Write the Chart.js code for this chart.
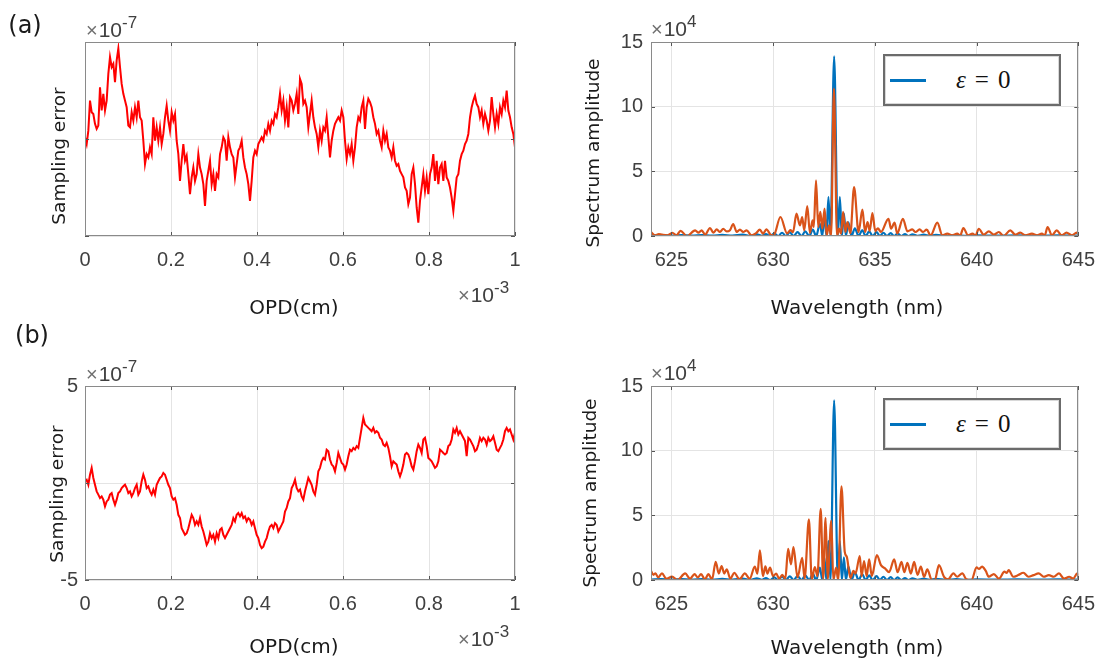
<!DOCTYPE html>
<html>
<head>
<meta charset="utf-8">
<script src="https://cdn.jsdelivr.net/npm/chart.js@4.4.1/dist/chart.umd.min.js"></script>
<style>
  body { margin: 0; background: #fff; width: 1107px; height: 662px; overflow: hidden; position: relative; }
  canvas { position: absolute; }
  .txt { position: absolute; white-space: nowrap; color: #1a1a1a; font-family: "DejaVu Sans", sans-serif; line-height: 1; }
  .mid { transform: translate(-50%, -50%); }
  .rot { transform: translate(-50%, -50%) rotate(-90deg); }
  .tag { font-size: 24px; }
  .xt { font-size: 20px; }
  .yt { font-size: 18.5px; }
  .exp { position: absolute; font-family: "Liberation Sans", Arial, sans-serif; font-size: 21px; line-height: 21px; color: #404040; white-space: nowrap; }
  .exp .x { font-size: 20px; color: #6f6f6f; margin-right: 1px; }
  .exp .p { position: relative; top: -9px; font-size: 17px; }
  .legend { position: absolute; width: 174px; height: 48px; border: 2px solid #6b6b6b; background: #fff; box-shadow: inset 0 0 0 1px #d8d8d8; }
  .legend .ln { position: absolute; left: 5px; top: 23px; width: 36px; height: 3px; background: #0072bd; }
  .legend .lb { position: absolute; left: 71px; top: 11px; font-family: "Liberation Serif", serif; font-size: 25px; line-height: 1; color: #111; }
  .legend .lb span { margin-left: 9px; }
</style>
</head>
<body>
<canvas id="errAChart" width="560" height="330" style="left:0;top:0"></canvas>
<canvas id="specAChart" width="547" height="330" style="left:560px;top:0"></canvas>
<canvas id="errBChart" width="560" height="332" style="left:0;top:330px"></canvas>
<canvas id="specBChart" width="547" height="332" style="left:560px;top:330px"></canvas>

<div class="txt tag mid" style="left:25px;top:25px">(a)</div>
<div class="txt tag mid" style="left:32px;top:335px">(b)</div>

<div class="txt yt rot" style="left:59px;top:156px">Sampling error</div>
<div class="txt xt mid" style="left:294px;top:307px">OPD(cm)</div>
<div class="txt yt rot" style="left:593px;top:153px">Spectrum amplitude</div>
<div class="txt xt mid" style="left:857px;top:307px">Wavelength (nm)</div>

<div class="txt yt rot" style="left:57px;top:494px">Sampling error</div>
<div class="txt xt mid" style="left:294px;top:646px">OPD(cm)</div>
<div class="txt yt rot" style="left:590px;top:493px">Spectrum amplitude</div>
<div class="txt xt mid" style="left:857px;top:647px">Wavelength (nm)</div>

<div class="exp" style="left:86px;top:19px"><span class="x">×</span>10<span class="p">-7</span></div>
<div class="exp" style="left:651px;top:18px"><span class="x">×</span>10<span class="p">4</span></div>
<div class="exp" style="left:458px;top:284px"><span class="x">×</span>10<span class="p">-3</span></div>
<div class="exp" style="left:86px;top:363px"><span class="x">×</span>10<span class="p">-7</span></div>
<div class="exp" style="left:651px;top:362px"><span class="x">×</span>10<span class="p">4</span></div>
<div class="exp" style="left:458px;top:628px"><span class="x">×</span>10<span class="p">-3</span></div>

<div class="legend" style="left:883px;top:54px"><div class="ln"></div><div class="lb"><i>ε</i><span>=</span><span>0</span></div></div>
<div class="legend" style="left:883px;top:398px"><div class="ln"></div><div class="lb"><i>ε</i><span>=</span><span>0</span></div></div>

<script>
// sampling error along the OPD sweep, in units of 1e-7
var errA = [0.09,-0.26,0.43,1.98,1.38,1.29,0.78,0.52,
  0.69,2.67,1.47,2.33,1.47,1.98,3.36,4.22,3.71,3.88,
  2.93,4.05,4.66,3.71,2.84,2.33,1.98,1.64,0.69,0.60,
  1.38,0.95,1.64,1.12,1.98,1.12,0.95,-0.09,-1.29,-0.78,
  -0.95,-0.43,-0.78,1.12,-0.09,0.60,-0.09,0.60,-0.26,0.26,
  1.12,1.72,0.95,0.43,1.38,0.95,1.29,-0.09,-0.78,-2.16,
  -1.12,-0.26,-1.12,-0.86,-1.81,-2.84,-1.98,-1.47,-2.16,-1.81,
  -0.78,-1.47,-1.81,-2.33,-3.45,-2.16,-1.64,-1.12,-2.33,-1.81,
  -2.67,-1.81,-1.98,-0.78,-0.43,0.09,-0.09,-1.12,0.09,-0.43,
  -0.78,-0.95,-1.98,-1.29,-0.60,-0.43,-0.09,-0.95,-1.47,-1.81,
  -2.33,-3.19,-2.16,-0.95,-0.60,-0.78,-0.26,-0.09,0.09,-0.09,
  0.43,0.26,0.78,0.43,0.95,0.78,1.29,1.12,1.64,2.33,
  1.47,1.98,0.95,1.64,0.60,2.16,1.98,1.47,
  1.81,2.33,1.29,3.10,2.84,1.81,1.98,1.64,0.60,1.29,
  1.98,1.12,0.60,0.26,-0.43,0.43,-0.09,0.60,0.43,1.12,
  0.09,-0.95,-0.09,0.43,0.78,0.95,1.12,0.95,1.47,1.12,
  -0.09,-1.03,-0.43,-0.78,-0.26,-1.12,-0.43,0.60,1.12,0.95,
  1.64,1.98,0.52,1.64,2.07,1.90,1.64,1.12,0.78,0.26,
  0.43,-0.09,-0.43,0.43,-0.09,0.26,-0.43,-0.60,-0.95,-0.43,
  -1.12,-1.38,-1.29,-1.64,-1.81,-1.98,-2.50,-2.67,-3.36,-3.02,
  -1.81,-1.47,-2.33,-3.53,-4.31,-3.19,-2.50,-1.81,-2.67,-1.98,
  -2.84,-1.81,-1.47,-0.78,-2.16,-1.12,-2.33,-1.47,-1.29,-2.16,
  -1.12,-1.98,-2.16,-2.50,-3.02,-3.71,-2.84,-1.98,-1.81,-1.12,
  -0.78,-0.60,-0.26,-0.09,0.26,1.12,1.64,1.98,2.24,1.81,
  1.64,1.12,1.47,0.78,1.29,0.95,0.43,0.95,2.16,1.29,
  0.60,1.29,0.78,1.64,1.29,1.98,1.64,2.50,1.47,1.12,
  0.60,0.26,-0.43];

var errB = [0.09,0.17,-0.09,0.43,0.78,0.26,-0.09,-0.43,-0.60,-0.78,
  -0.69,-0.86,-1.21,-0.95,-0.86,-0.60,-0.52,-0.86,-1.12,-0.86,
  -0.52,-0.43,-0.26,-0.17,-0.09,-0.26,-0.52,-0.43,-0.69,-0.52,
  -0.26,-0.09,-0.60,-0.43,0.09,0.43,0.17,-0.26,-0.17,-0.43,
  -0.60,-0.34,-0.60,-0.09,0.09,0.26,0.34,0.52,0.43,0.17,
  -0.09,-0.26,-0.69,-0.86,-0.78,-1.12,-1.64,-1.81,-2.33,-2.50,
  -2.67,-2.59,-2.33,-1.98,-1.64,-1.81,-2.16,-1.98,-2.16,-1.81,
  -2.24,-2.50,-2.84,-3.19,-3.02,-2.59,-2.84,-2.67,-3.02,-2.59,
  -2.84,-2.41,-2.33,-2.67,-2.84,-2.67,-2.50,-2.33,-2.16,-1.81,
  -1.98,-1.64,-1.55,-1.72,-1.55,-1.81,-1.72,-1.98,-1.81,-1.90,
  -2.16,-1.98,-2.33,-2.67,-2.84,-3.19,-3.36,-3.28,-3.02,-2.84,
  -2.50,-2.24,-2.16,-2.33,-2.07,-2.16,-2.50,-2.33,-2.16,-1.98,
  -1.47,-1.29,-0.95,-0.78,-0.26,-0.09,
  0.17,-0.26,-0.43,-0.34,-0.69,-0.86,-0.43,-0.09,0.26,0.09,
  -0.09,-0.43,-0.60,-0.09,0.60,0.78,1.12,1.29,1.21,1.72,
  1.64,1.21,0.95,0.86,0.60,1.03,1.55,1.29,1.03,0.95,
  0.69,0.95,1.38,1.72,1.64,1.81,1.72,1.90,1.81,2.33,
  2.84,3.36,3.02,2.93,2.84,2.76,2.67,2.84,2.59,2.67,
  2.59,2.33,2.24,1.98,1.90,2.07,1.81,1.38,0.86,1.12,
  1.03,0.95,0.60,0.34,0.60,0.95,1.47,1.55,1.47,1.21,
  0.86,0.69,1.12,1.64,1.98,1.81,1.55,2.24,2.33,1.90,
  1.29,1.21,1.12,0.95,0.78,0.86,1.12,1.72,1.64,1.55,
  1.47,1.55,1.90,1.98,2.24,2.76,2.59,2.84,2.50,2.67,
  2.50,2.33,2.16,1.38,2.33,2.24,2.07,1.90,1.64,1.72,
  1.98,2.33,2.16,2.33,2.24,1.98,2.33,2.16,2.24,2.41,
  2.07,1.72,1.64,1.81,1.98,2.24,2.67,2.84,2.67,2.76,
  2.50,2.24,2.59];

// spectrum with no sampling error (eps = 0): wavelength (nm), amplitude (x1e4)
var wlRef = [624.0,624.5,625.0,625.5,626.0,626.5,627.0,627.5,628.0,628.5,628.9,629.2,629.45,629.65,629.85,
  630.06,630.25,630.44,630.63,630.82,631.01,631.2,631.4,631.58,631.78,631.95,632.12,632.3,632.42,632.52,
  632.62,632.72,632.82,633.0,633.18,633.28,633.38,633.48,633.58,633.7,633.85,634.02,634.2,634.38,634.55,
  634.72,634.9,635.08,635.25,635.42,635.6,635.78,635.95,636.12,636.3,636.48,636.65,636.85,637.1,637.4,
  637.7,638.0,638.5,639.0,639.5,640.0,641.0,642.0,643.0,644.0,645.0];
var ampRef = [0.03,0.06,0.03,0.06,0.03,0.06,0.03,0.08,0.03,0.1,0.02,0.12,0.02,0.15,0.0,
  0.2,0.0,0.25,0.0,0.28,0.0,0.3,0.0,0.35,0.0,0.5,0.0,0.95,0.0,1.75,
  0.0,3.0,0.0,13.9,0.0,3.0,0.0,1.75,0.0,1.05,0.0,0.6,0.0,0.45,0.0,
  0.35,0.0,0.3,0.0,0.25,0.0,0.22,0.0,0.2,0.0,0.15,0.0,0.12,0.02,0.1,
  0.02,0.08,0.02,0.06,0.02,0.05,0.03,0.05,0.03,0.05,0.03];

// spectrum recovered with the sampling error of (a)
var wlA = [624.0,624.21,624.38,624.54,624.8,625.05,625.25,625.45,625.76,626.17,626.33,626.49,626.66,626.9,627.06,
  627.23,627.39,627.55,627.72,627.88,628.04,628.21,628.37,628.53,628.7,628.94,629.15,629.35,629.51,629.67,
  629.92,630.05,630.36,630.69,630.85,630.98,631.15,631.32,631.43,631.53,631.68,631.81,631.94,632.0,632.11,
  632.22,632.32,632.42,632.53,632.63,632.75,632.85,632.99,633.14,633.24,633.34,633.44,633.55,633.65,633.8,
  633.98,634.2,634.39,634.52,634.64,634.75,634.88,635.02,635.15,635.3,635.67,635.8,635.97,636.1,636.38,
  636.6,636.84,637.0,637.2,637.37,637.55,637.74,638.07,638.32,638.56,638.8,639.05,639.2,639.35,639.58,
  639.8,639.95,640.11,640.35,640.6,640.85,641.09,641.33,641.66,641.9,642.15,642.4,642.72,642.97,643.21,
  643.35,643.49,643.7,643.94,644.18,644.42,644.68,644.92,645.0];
var ampA = [0.3,0.05,0.15,0.1,0.05,0.25,0.05,0.4,0.0,0.44,0.26,0.44,0.1,0.62,0.26,
  0.51,0.31,0.56,0.35,0.45,0.92,0.31,0.49,0.31,0.44,0.05,0.2,0.49,0.18,0.51,
  0.05,0.1,1.47,0.2,0.45,0.3,1.73,0.82,1.47,0.44,2.32,0.23,1.21,0.7,4.3,
  0.7,1.86,0.57,2.11,0.05,0.82,0.0,11.39,0.0,0.57,0.18,1.86,0.31,1.08,0.23,
  3.79,0.3,2.04,0.31,1.08,0.39,1.78,0.39,0.6,0.31,1.33,0.56,1.03,0.2,1.33,
  0.36,0.51,0.31,0.51,0.31,0.49,0.05,1.03,0.05,0.18,0.05,0.18,0.05,0.62,0.05,
  0.18,0.05,0.56,0.1,0.36,0.1,0.31,0.0,0.44,0.1,0.26,0.05,0.18,0.05,0.18,
  0.05,0.69,0.05,0.44,0.05,0.26,0.05,0.26,0.18];

// spectrum recovered with the sampling error of (b)
var wlB = [624.0,624.12,624.22,624.35,624.54,624.75,625.03,625.3,625.68,625.92,626.14,626.3,626.46,626.65,626.82,
  627.0,627.18,627.33,627.47,627.6,627.72,627.9,628.09,628.35,628.61,628.85,629.1,629.23,629.35,629.5,
  629.62,629.72,629.85,630.0,630.15,630.3,630.45,630.6,630.74,630.88,631.0,631.2,631.43,631.55,631.76,
  631.9,632.05,632.18,632.34,632.46,632.58,632.68,632.86,632.96,633.1,633.2,633.36,633.52,633.62,633.8,
  633.95,634.05,634.26,634.35,634.47,634.6,634.72,634.85,635.1,635.3,635.5,635.7,635.95,636.12,636.31,
  636.45,636.6,636.77,636.93,637.1,637.26,637.42,637.58,637.78,637.95,638.15,638.4,638.6,638.86,639.05,
  639.3,639.5,639.75,640.0,640.12,640.27,640.45,640.6,640.85,641.1,641.37,641.48,641.58,641.8,642.05,
  642.3,642.55,642.8,643.05,643.3,643.55,643.8,644.05,644.3,644.55,644.75,644.95,645.0];
var ampB = [0.72,0.4,0.51,0.2,0.51,0.1,0.26,0.0,0.51,0.1,0.46,0.2,0.46,0.05,0.46,
  0.05,1.41,0.5,1.08,0.5,0.82,0.1,0.56,0.05,0.51,0.1,1.03,0.5,2.3,0.3,
  1.05,0.5,0.95,0.3,0.5,0.1,0.4,0.1,2.4,1.2,2.55,0.2,1.72,0.1,4.68,
  0.05,1.0,0.3,5.5,0.1,4.8,0.05,4.6,0.0,0.95,0.0,7.25,2.2,1.8,0.15,
  0.7,0.5,1.85,0.3,1.47,0.3,1.6,0.3,1.93,1.15,0.9,0.6,1.6,0.6,1.4,
  0.6,1.33,0.5,1.4,0.4,1.03,0.25,0.82,0.05,0.0,1.15,0.25,0.05,0.51,0.25,
  0.51,0.05,0.0,0.97,0.85,1.03,0.7,0.25,0.46,0.1,0.64,0.55,0.77,0.25,0.38,
  0.56,0.25,0.38,0.51,0.25,0.38,0.25,0.51,0.1,0.25,0.1,0.51,0.3];

var RED = '#ff0000', BLUE = '#0072bd', ORANGE = '#d95319';
var GRID = '#e4e4e4';

Chart.defaults.font.family = '"Liberation Sans", Arial, sans-serif';
Chart.defaults.font.size = 20;
Chart.defaults.color = '#404040';

// closed axes box with short inward tick marks, drawn over the data
var boxPlugin = {
  id: 'box',
  afterDatasetsDraw: function (chart) {
    var ctx = chart.ctx, a = chart.chartArea, sx = chart.scales.x, sy = chart.scales.y;
    ctx.save();
    ctx.lineWidth = 1;
    ctx.strokeStyle = '#555';
    ctx.beginPath();
    sx.ticks.forEach(function (t) {
      var p = Math.round(sx.getPixelForValue(t.value)) + 0.5;
      ctx.moveTo(p, a.bottom); ctx.lineTo(p, a.bottom - 4);
      ctx.moveTo(p, a.top); ctx.lineTo(p, a.top + 4);
    });
    sy.ticks.forEach(function (t) {
      var p = Math.round(sy.getPixelForValue(t.value)) + 0.5;
      ctx.moveTo(a.left, p); ctx.lineTo(a.left + 4, p);
      ctx.moveTo(a.right, p); ctx.lineTo(a.right - 4, p);
    });
    ctx.stroke();
    ctx.strokeStyle = '#8a8a8a';
    ctx.strokeRect(Math.round(a.left) + 0.5, Math.round(a.top) + 0.5, Math.round(a.width) - 1, Math.round(a.height) - 1);
    ctx.restore();
  }
};

function xy(xs, ys) {
  return ys.map(function (v, i) { return {x: xs[i], y: v}; });
}

// OPD sample positions, evenly spaced over 0..1 (x1e-3 cm)
function opdOf(arr) {
  return arr.map(function (v, i) { return i / (arr.length - 1); });
}

function errorChart(id, values, top, xHeight, showY) {
  return new Chart(document.getElementById(id), {
    type: 'line',
    data: {datasets: [{data: xy(opdOf(values), values), borderColor: RED, borderWidth: 2, pointRadius: 0, tension: 0}]},
    options: {
      responsive: false, animation: false, devicePixelRatio: 1,
      layout: {padding: {left: 0, top: top, right: 45, bottom: 0}},
      plugins: {legend: {display: false}, tooltip: {enabled: false}},
      scales: {
        x: {
          type: 'linear', min: 0, max: 1,
          grid: {color: GRID, drawTicks: false}, border: {display: false},
          ticks: {stepSize: 0.2, padding: 12, autoSkip: false, maxRotation: 0,
            callback: function (v) { return String(+v.toFixed(1)); }},
          afterFit: function (s) { s.height = xHeight; }
        },
        y: {
          min: -5, max: 5,
          grid: {color: GRID, drawTicks: false}, border: {display: false},
          ticks: {stepSize: 5, padding: 7,
            callback: function (v) { return showY && v !== 0 ? String(v) : ''; }},
          afterFit: function (s) { s.width = 85; }
        }
      }
    },
    plugins: [boxPlugin]
  });
}

function spectrumChart(id, wl, amp, top, xHeight) {
  return new Chart(document.getElementById(id), {
    type: 'line',
    data: {datasets: [
      {label: 'sampled', data: xy(wl, amp), borderColor: ORANGE, borderWidth: 2.2, pointRadius: 0, cubicInterpolationMode: 'monotone'},
      {label: 'ε = 0', data: xy(wlRef, ampRef), borderColor: BLUE, borderWidth: 2.2, pointRadius: 0, cubicInterpolationMode: 'monotone'}
    ]},
    options: {
      responsive: false, animation: false, devicePixelRatio: 1,
      layout: {padding: {left: 0, top: top, right: 27, bottom: 0}},
      plugins: {legend: {display: false}, tooltip: {enabled: false}},
      scales: {
        x: {
          type: 'linear', min: 624, max: 645,
          grid: {color: GRID, drawTicks: false}, border: {display: false},
          ticks: {stepSize: 5, includeBounds: false, padding: 12, autoSkip: false, maxRotation: 0},
          afterFit: function (s) { s.height = xHeight; }
        },
        y: {
          min: 0, max: 15,
          grid: {color: GRID, drawTicks: false}, border: {display: false},
          ticks: {stepSize: 5, padding: 8},
          afterFit: function (s) { s.width = 91; }
        }
      }
    },
    plugins: [boxPlugin]
  });
}

errorChart('errAChart', errA, 42, 94, false);
spectrumChart('specAChart', wlA, ampA, 42, 94);
errorChart('errBChart', errB, 56, 82, true);
spectrumChart('specBChart', wlB, ampB, 56, 82);
</script>
</body>
</html>
